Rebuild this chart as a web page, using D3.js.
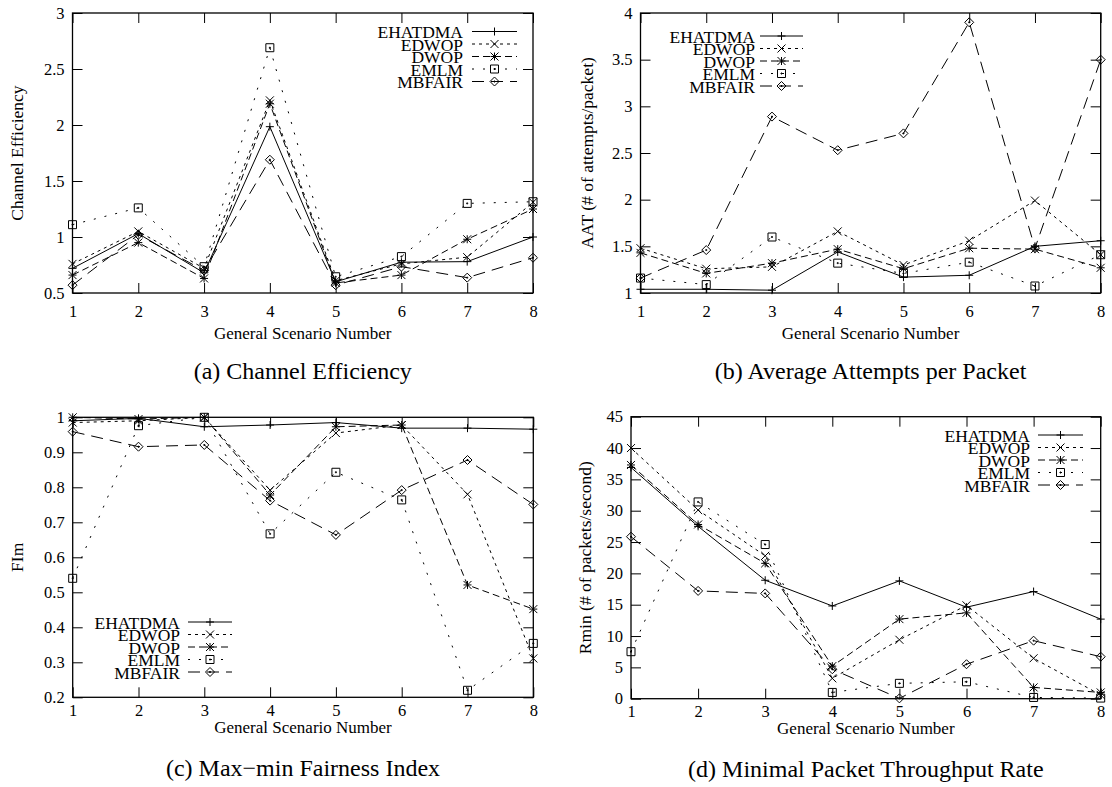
<html>
<head>
<script src="https://d3js.org/d3.v7.min.js"></script>
<style>
  body { margin: 0; background: #fff; }
  text { font-family: "Liberation Serif", "Times New Roman", serif; fill: #000; }
</style>
</head>
<body>
<script>
// scenario numbers and algorithm names
const scenarios = [1, 2, 3, 4, 5, 6, 7, 8];
const algorithms = ["EHATDMA", "EDWOP", "DWOP", "EMLM", "MBFAIR"];

// (a) channel efficiency
const effEHATDMA = [0.72, 1.03, 0.68, 1.985, 0.60, 0.775, 0.78, 1.00];
const effEDWOP   = [0.76, 1.05, 0.72, 2.22, 0.61, 0.76, 0.82, 1.31];
const effDWOP    = [0.66, 0.95, 0.63, 2.19, 0.59, 0.66, 0.98, 1.25];
const effEMLM    = [1.11, 1.26, 0.735, 2.69, 0.645, 0.825, 1.30, 1.315];
const effMBFAIR  = [0.57, 1.02, 0.70, 1.69, 0.57, 0.735, 0.637, 0.815];

// (b) average attempts per packet
const aatEHATDMA = [1.04, 1.04, 1.03, 1.44, 1.17, 1.19, 1.50, 1.56];
const aatEDWOP   = [1.48, 1.26, 1.28, 1.66, 1.30, 1.56, 1.99, 1.41];
const aatDWOP    = [1.43, 1.21, 1.32, 1.47, 1.26, 1.48, 1.47, 1.27];
const aatEMLM    = [1.16, 1.09, 1.60, 1.32, 1.21, 1.33, 1.075, 1.41];
const aatMBFAIR  = [1.16, 1.46, 2.89, 2.53, 2.71, 3.90, 1.48, 3.50];

// (c) max-min fairness index
const fimEHATDMA = [0.99, 0.997, 0.973, 0.978, 0.985, 0.969, 0.969, 0.966];
const fimEDWOP   = [0.985, 0.99, 1.0, 0.792, 0.955, 0.978, 0.780, 0.311];
const fimDWOP    = [1.0, 0.995, 1.0, 0.778, 0.973, 0.978, 0.521, 0.452];
const fimEMLM    = [0.54, 0.976, 1.0, 0.667, 0.843, 0.764, 0.22, 0.354];
const fimMBFAIR  = [0.959, 0.916, 0.921, 0.762, 0.664, 0.792, 0.878, 0.751];

// (d) minimal packet throughput rate
const rminEHATDMA = [36.9, 27.5, 18.9, 14.8, 18.8, 14.6, 17.1, 12.7];
const rminEDWOP   = [40.0, 30.1, 22.8, 3.25, 9.4, 14.9, 6.45, 0.6];
const rminDWOP    = [37.3, 27.8, 21.6, 5.2, 12.7, 13.7, 1.8, 1.0];
const rminEMLM    = [7.5, 31.4, 24.6, 1.0, 2.45, 2.7, 0.2, 0.1];
const rminMBFAIR  = [25.85, 17.2, 16.8, 4.7, 0.05, 5.5, 9.26, 6.7];

// y ticks for each panel
const effTicks  = [0.5, 1, 1.5, 2, 2.5, 3];
const aatTicks  = [1, 1.5, 2, 2.5, 3, 3.5, 4];
const fimTicks  = [0.2, 0.3, 0.4, 0.5, 0.6, 0.7, 0.8, 0.9, 1];
const rminTicks = [0, 5, 10, 15, 20, 25, 30, 35, 40, 45];

// gnuplot-ish line styles
const dashes = { EHATDMA: null, EDWOP: "3,4", DWOP: "7,4", EMLM: "2,9", MBFAIR: "12,7" };

const svg = d3.select("body").append("svg").attr("width", 1112).attr("height", 787);

function markerPath(name, cx, cy) {
  const s = 4;
  const p = d3.path();
  if (name === "EHATDMA" || name === "DWOP") {
    p.moveTo(cx - s, cy); p.lineTo(cx + s, cy);
    p.moveTo(cx, cy - s); p.lineTo(cx, cy + s);
  }
  if (name === "EDWOP" || name === "DWOP") {
    p.moveTo(cx - s, cy - s); p.lineTo(cx + s, cy + s);
    p.moveTo(cx - s, cy + s); p.lineTo(cx + s, cy - s);
  }
  if (name === "EMLM") {
    p.rect(cx - s, cy - s, 2 * s, 2 * s);
    p.rect(cx - 0.5, cy - 0.5, 1, 1);
  }
  if (name === "MBFAIR") {
    const d = 4.5;
    p.moveTo(cx, cy - d); p.lineTo(cx + d, cy); p.lineTo(cx, cy + d); p.lineTo(cx - d, cy); p.closePath();
    p.rect(cx - 0.5, cy - 0.5, 1, 1);
  }
  return p.toString();
}

function drawPanel(p) {
  const g = svg.append("g");
  const x = d3.scaleLinear().domain([1, 8]).range([p.left, p.right]);
  const y = d3.scaleLinear().domain(p.yDomain).range([p.bottom, p.top]);
  const fmt = d3.format("~g");

  const styleAxis = a => {
    a.select(".domain").remove();
    a.selectAll(".tick line").attr("stroke", "#000").attr("stroke-width", 1);
    a.selectAll("text").attr("font-family", "Liberation Serif").attr("font-size", 16.5).attr("fill", "#000");
    a.attr("font-family", null).attr("font-size", null);
  };

  g.append("g").attr("transform", `translate(0,${p.bottom})`)
    .call(d3.axisBottom(x).tickValues(scenarios).tickFormat(fmt).tickSizeInner(-10).tickSizeOuter(0).tickPadding(p.tickPad))
    .call(styleAxis);
  g.append("g").attr("transform", `translate(0,${p.top})`)
    .call(d3.axisTop(x).tickValues(scenarios).tickFormat("").tickSizeInner(-10).tickSizeOuter(0))
    .call(styleAxis);
  g.append("g").attr("transform", `translate(${p.left},0)`)
    .call(d3.axisLeft(y).tickValues(p.yTicks).tickFormat(fmt).tickSizeInner(-10).tickSizeOuter(0).tickPadding(8))
    .call(styleAxis);
  g.append("g").attr("transform", `translate(${p.right},0)`)
    .call(d3.axisRight(y).tickValues(p.yTicks).tickFormat("").tickSizeInner(-10).tickSizeOuter(0))
    .call(styleAxis);

  g.append("rect").attr("x", p.left).attr("y", p.top)
    .attr("width", p.right - p.left).attr("height", p.bottom - p.top)
    .attr("fill", "none").attr("stroke", "#000").attr("stroke-width", 1.3);

  const line = d3.line().x((d, i) => x(scenarios[i])).y(d => y(d));

  algorithms.forEach((name, k) => {
    const vals = p.series[k];
    g.append("path").attr("d", line(vals))
      .attr("fill", "none").attr("stroke", "#000").attr("stroke-width", 1)
      .attr("stroke-dasharray", dashes[name]);
    g.selectAll(null).data(vals).join("path")
      .attr("d", (d, i) => markerPath(name, x(scenarios[i]), y(d)))
      .attr("fill", "none").attr("stroke", "#000").attr("stroke-width", 1);

    // legend row
    const by = p.legBase + k * 12.5;
    const ly = by - 6.5;
    g.append("text").attr("x", p.legText).attr("y", by).attr("text-anchor", "end")
      .attr("font-size", 17.5).text(name);
    g.append("line").attr("x1", p.legLine[0]).attr("x2", p.legLine[1]).attr("y1", ly).attr("y2", ly)
      .attr("stroke", "#000").attr("stroke-width", 1).attr("stroke-dasharray", dashes[name]);
    g.append("path").attr("d", markerPath(name, (p.legLine[0] + p.legLine[1]) / 2, ly))
      .attr("fill", "none").attr("stroke", "#000").attr("stroke-width", 1);
  });

  const cx = (p.left + p.right) / 2;
  const cy = (p.top + p.bottom) / 2;
  g.append("text").attr("transform", `translate(${p.yLabelX},${cy}) rotate(-90)`)
    .attr("text-anchor", "middle").attr("dy", "0.35em").attr("font-size", 17.5).text(p.yLabel);
  g.append("text").attr("x", cx).attr("y", p.bottom + p.titleOff).attr("text-anchor", "middle")
    .attr("font-size", 17).text("General Scenario Number");
  g.append("text").attr("x", cx).attr("y", p.bottom + p.capOff).attr("text-anchor", "middle")
    .attr("font-size", 24).text(p.caption);
}

drawPanel({
  left: 72.5, right: 533, top: 13, bottom: 293,
  yDomain: [0.5, 3], yTicks: effTicks,
  series: [effEHATDMA, effEDWOP, effDWOP, effEMLM, effMBFAIR],
  yLabel: "Channel Efficiency", yLabelX: 17,
  legText: 463, legLine: [472, 517], legBase: 38,
  tickPad: 12.5, titleOff: 46, capOff: 86,
  caption: "(a) Channel Efficiency"
});
drawPanel({
  left: 640.5, right: 1100.7, top: 13, bottom: 293,
  yDomain: [1, 4], yTicks: aatTicks,
  series: [aatEHATDMA, aatEDWOP, aatDWOP, aatEMLM, aatMBFAIR],
  yLabel: "AAT (# of attempts/packet)", yLabelX: 587,
  legText: 755, legLine: [760, 803], legBase: 42.5,
  tickPad: 12.5, titleOff: 46, capOff: 86,
  caption: "(b) Average Attempts per Packet"
});
drawPanel({
  left: 72.7, right: 533.3, top: 417.3, bottom: 697.3,
  yDomain: [0.2, 1], yTicks: fimTicks,
  series: [fimEHATDMA, fimEDWOP, fimDWOP, fimEMLM, fimMBFAIR],
  yLabel: "FIm", yLabelX: 17,
  legText: 180, legLine: [188, 232], legBase: 628.5,
  tickPad: 6.5, titleOff: 36, capOff: 79,
  caption: "(c) Max\u2212min Fairness Index"
});
drawPanel({
  left: 631, right: 1100.7, top: 416.7, bottom: 698.7,
  yDomain: [0, 45], yTicks: rminTicks,
  series: [rminEHATDMA, rminEDWOP, rminDWOP, rminEMLM, rminMBFAIR],
  yLabel: "Rmin (# of packets/second)", yLabelX: 585,
  legText: 1030, legLine: [1038, 1083], legBase: 441.5,
  tickPad: 6.5, titleOff: 35, capOff: 78,
  caption: "(d) Minimal Packet Throughput Rate"
});
</script>
</body>
</html>
